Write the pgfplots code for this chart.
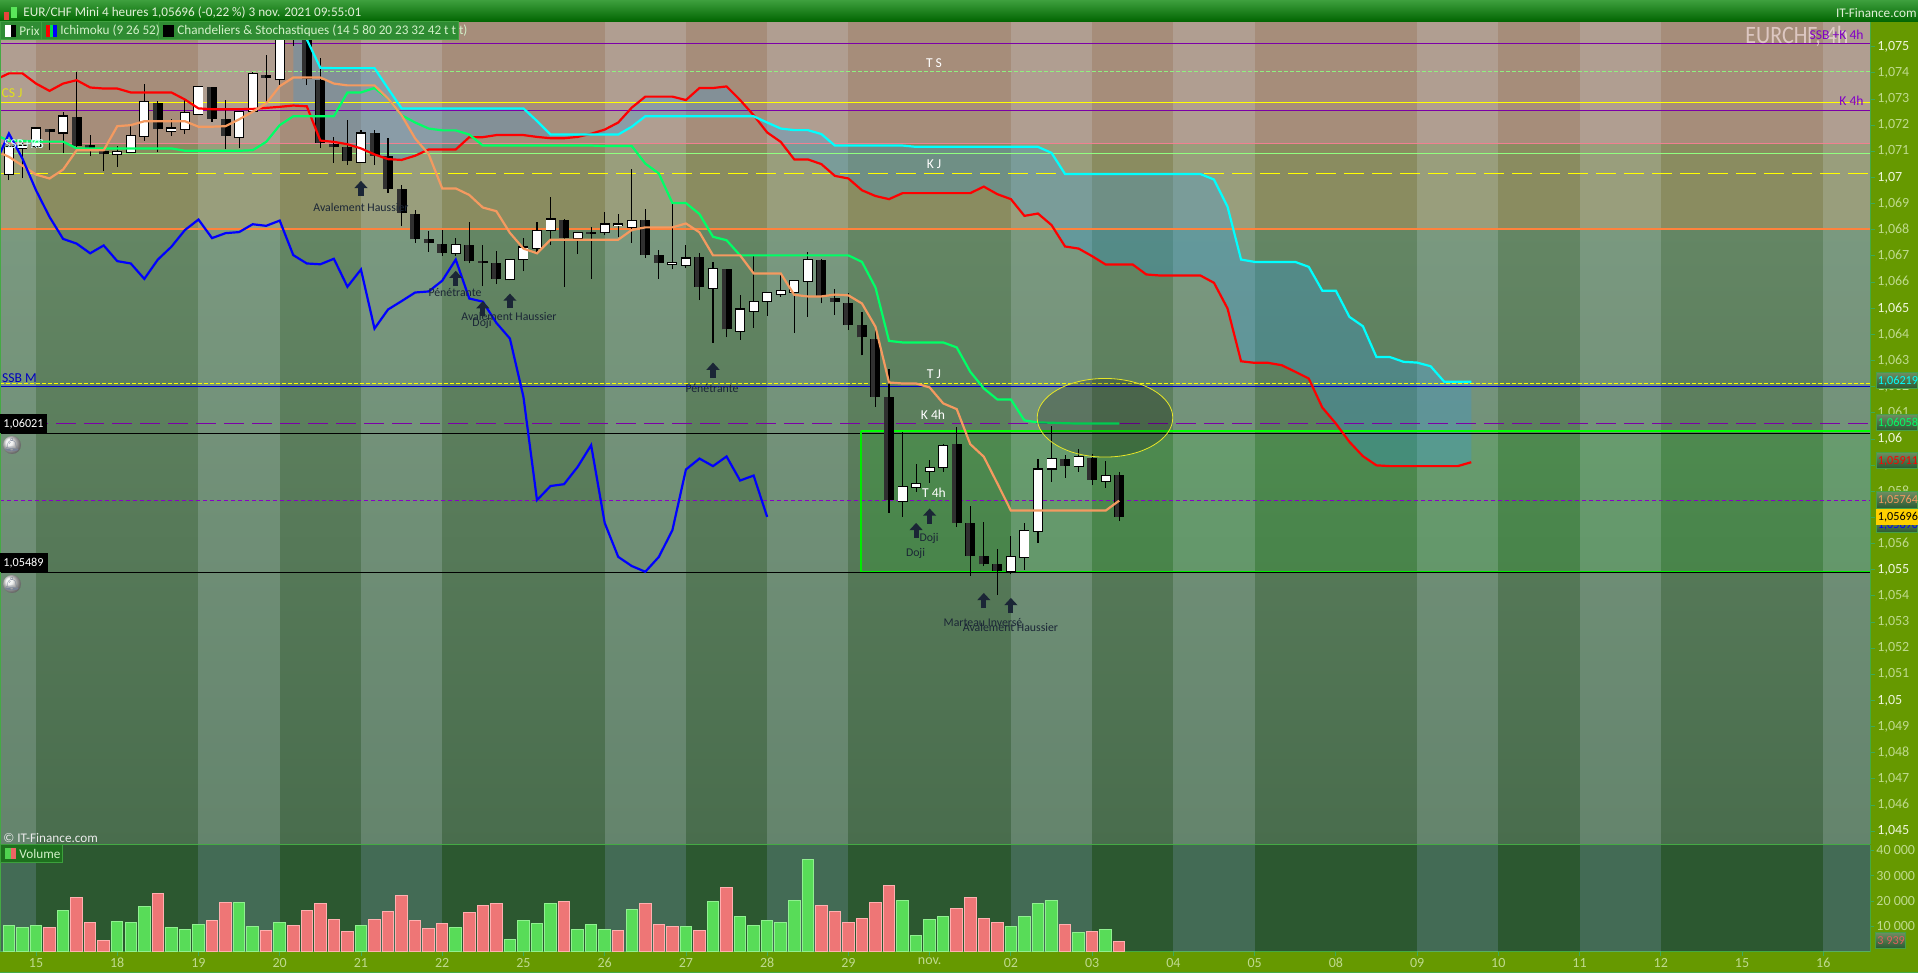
\documentclass[border=0pt]{standalone}
\usepackage{fontspec}
\setmainfont{Carlito}
\newfontfamily\emoji{Noto Emoji}
\usepackage{pgfplots}
\usepackage{pgfplotstable}
\pgfplotsset{compat=1.18}
\usetikzlibrary{arrows.meta}

\definecolor{axgreen}{HTML}{669900}
\definecolor{edge}{HTML}{44AA44}
\definecolor{pinkz}{HTML}{A68D7A}
\definecolor{olivez}{HTML}{8A8C60}
\definecolor{bandc}{RGB}{225,240,255}
\definecolor{vbandc}{HTML}{AEC6FF}
\definecolor{oran}{HTML}{F49A60}
\definecolor{spring}{HTML}{00FF66}
\definecolor{ccyan}{RGB}{0,255,255}
\definecolor{yel}{RGB}{255,255,0}
\definecolor{hpurple}{HTML}{7B00A8}
\definecolor{hpurpleb}{HTML}{8800C8}
\definecolor{txtmaj}{HTML}{EEF6DC}
\definecolor{txtmin}{HTML}{BFDA8E}
\definecolor{patt}{HTML}{1B2636}
\definecolor{cbaseT}{RGB}{100,134,100}
\definecolor{cbaseB}{RGB}{73,109,77}
\definecolor{cvol}{RGB}{44,88,48}
\definecolor{cgreenrect}{RGB}{0,210,0}
\definecolor{ccloud}{RGB}{51,153,221}
\definecolor{hlime}{RGB}{144,240,128}
\definecolor{hpink}{RGB}{240,128,144}
\definecolor{hlg}{RGB}{144,255,128}
\definecolor{horange}{RGB}{255,130,60}
\definecolor{hblue}{RGB}{0,0,200}
\definecolor{rlime}{RGB}{0,255,0}
\definecolor{rlimeb}{RGB}{0,235,0}
\definecolor{tickc}{RGB}{60,170,90}
\definecolor{vgf}{RGB}{88,220,88}
\definecolor{vgd}{RGB}{144,240,144}
\definecolor{vrf}{RGB}{238,118,118}
\definecolor{vrd}{RGB}{255,176,176}
\definecolor{barT}{RGB}{62,160,62}
\definecolor{barB}{RGB}{0,100,0}
\definecolor{icr}{RGB}{230,70,60}
\definecolor{icg}{RGB}{90,230,90}
\definecolor{icgb}{RGB}{0,220,80}
\definecolor{txtb}{RGB}{225,240,215}
\definecolor{txtl}{RGB}{210,240,200}
\definecolor{legf}{RGB}{47,140,51}
\definecolor{legd}{RGB}{63,160,63}
\definecolor{euc}{RGB}{245,225,225}
\definecolor{pur}{RGB}{130,0,200}
\definecolor{sblue}{RGB}{0,0,190}
\definecolor{bellc}{RGB}{120,130,150}
\definecolor{cw}{RGB}{235,235,235}
\definecolor{vlf}{RGB}{30,112,30}
\definecolor{vld}{RGB}{60,160,60}
\definecolor{vlg}{RGB}{80,210,80}
\definecolor{vlr}{RGB}{238,100,100}
\definecolor{tagT}{RGB}{108,140,96}
\definecolor{tagB}{RGB}{40,88,48}
\definecolor{tagd}{RGB}{70,160,70}
\definecolor{yt}{RGB}{255,208,0}
\definecolor{vt}{RGB}{224,96,96}
\definecolor{ellc}{RGB}{230,230,40}
\definecolor{dk}{RGB}{48,48,48}

\pgfplotstableread[row sep=\\]{i v\\
-2.659 1.07382\\ -2 1.07398\\ -1 1.07398\\ 0 1.07359\\ 1 1.07331\\ 2 1.07359\\ 3 1.07372\\ 4 1.07344\\ 5 1.07340\\ 6 1.07340\\ 7 1.07325\\ 10 1.07325\\ 11 1.07298\\ 12 1.07264\\ 13 1.07261\\ 15 1.07261\\ 16 1.07262\\ 17 1.07266\\ 18 1.07270\\ 19 1.07275\\ 20 1.07272\\ 21 1.07141\\ 22 1.07136\\ 23 1.07127\\ 24 1.07111\\ 25 1.07088\\ 26 1.07070\\ 27 1.07067\\ 28 1.07083\\ 29 1.07107\\ 31 1.07107\\ 32 1.07154\\ 33 1.07154\\ 34 1.07162\\ 36 1.07162\\ 37 1.07155\\ 38 1.07150\\ 39 1.07150\\ 40 1.07155\\ 41 1.07167\\ 42 1.07183\\ 43 1.07210\\ 44 1.07267\\ 45 1.07309\\ 47 1.07309\\ 48 1.07296\\ 49 1.07342\\ 50 1.07342\\ 51 1.07348\\ 52 1.07296\\ 53 1.07238\\ 54 1.07172\\ 55 1.07136\\ 56 1.07069\\ 57 1.07069\\ 58 1.07051\\ 59 1.07006\\ 60 1.06996\\ 61 1.06951\\ 62 1.06929\\ 63 1.06917\\ 64 1.06940\\ 69 1.06940\\ 70 1.06965\\ 71 1.06936\\ 72 1.06917\\ 73 1.06853\\ 74 1.06862\\ 75 1.06818\\ 76 1.06736\\ 77 1.06728\\ 78 1.06699\\ 79 1.06667\\ 81 1.06667\\ 82 1.06629\\ 83 1.06625\\ 86 1.06625\\ 87 1.06597\\ 88 1.06499\\ 89 1.06297\\ 90 1.06291\\ 91 1.06291\\ 92 1.06282\\ 93 1.06257\\ 94 1.06231\\ 95 1.06120\\ 96 1.06059\\ 97 1.05989\\ 98 1.05934\\ 99 1.05899\\ 100 1.05896\\ 105 1.05896\\ 106 1.05911\\
}\redT
\pgfplotstableread[row sep=\\]{i v\\
19 1.07589\\ 20 1.07528\\ 21 1.07419\\ 22 1.07418\\ 25 1.07418\\ 26 1.07340\\ 27 1.07264\\ 36 1.07264\\ 37 1.07216\\ 38 1.07164\\ 43 1.07164\\ 44 1.07194\\ 45 1.07234\\ 53 1.07234\\ 54 1.07210\\ 55 1.07187\\ 56 1.07181\\ 57 1.07181\\ 58 1.07166\\ 59 1.07122\\ 64 1.07122\\ 65 1.07117\\ 74 1.07117\\ 75 1.07094\\ 76 1.07013\\ 86 1.07013\\ 87 1.06992\\ 88 1.06888\\ 89 1.06686\\ 90 1.06677\\ 93 1.06677\\ 94 1.06658\\ 95 1.06567\\ 96 1.06567\\ 97 1.06467\\ 98 1.06431\\ 99 1.06313\\ 100 1.06313\\ 101 1.06295\\ 102 1.06292\\ 103 1.06278\\ 104 1.06219\\ 106 1.06219\\
}\cyanT
% the cloud outline: the red span from 19 to 106, then the cyan span back
\pgfplotstableread[row sep=\\]{i v\\
19 1.07275\\ 20 1.07272\\ 21 1.07141\\ 22 1.07136\\ 23 1.07127\\ 24 1.07111\\ 25 1.07088\\ 26 1.07070\\ 27 1.07067\\ 28 1.07083\\ 29 1.07107\\ 31 1.07107\\ 32 1.07154\\ 33 1.07154\\ 34 1.07162\\ 36 1.07162\\ 37 1.07155\\ 38 1.07150\\ 39 1.07150\\ 40 1.07155\\ 41 1.07167\\ 42 1.07183\\ 43 1.07210\\ 44 1.07267\\ 45 1.07309\\ 47 1.07309\\ 48 1.07296\\ 49 1.07342\\ 50 1.07342\\ 51 1.07348\\ 52 1.07296\\ 53 1.07238\\ 54 1.07172\\ 55 1.07136\\ 56 1.07069\\ 57 1.07069\\ 58 1.07051\\ 59 1.07006\\ 60 1.06996\\ 61 1.06951\\ 62 1.06929\\ 63 1.06917\\ 64 1.06940\\ 69 1.06940\\ 70 1.06965\\ 71 1.06936\\ 72 1.06917\\ 73 1.06853\\ 74 1.06862\\ 75 1.06818\\ 76 1.06736\\ 77 1.06728\\ 78 1.06699\\ 79 1.06667\\ 81 1.06667\\ 82 1.06629\\ 83 1.06625\\ 86 1.06625\\ 87 1.06597\\ 88 1.06499\\ 89 1.06297\\ 90 1.06291\\ 91 1.06291\\ 92 1.06282\\ 93 1.06257\\ 94 1.06231\\ 95 1.06120\\ 96 1.06059\\ 97 1.05989\\ 98 1.05934\\ 99 1.05899\\ 100 1.05896\\ 105 1.05896\\ 106 1.05911\\
106 1.06219\\ 104 1.06219\\ 103 1.06278\\ 102 1.06292\\ 101 1.06295\\ 100 1.06313\\ 99 1.06313\\ 98 1.06431\\ 97 1.06467\\ 96 1.06567\\ 95 1.06567\\ 94 1.06658\\ 93 1.06677\\ 90 1.06677\\ 89 1.06686\\ 88 1.06888\\ 87 1.06992\\ 86 1.07013\\ 76 1.07013\\ 75 1.07094\\ 74 1.07117\\ 65 1.07117\\ 64 1.07122\\ 59 1.07122\\ 58 1.07166\\ 57 1.07181\\ 56 1.07181\\ 55 1.07187\\ 54 1.07210\\ 53 1.07234\\ 45 1.07234\\ 44 1.07194\\ 43 1.07164\\ 38 1.07164\\ 37 1.07216\\ 36 1.07264\\ 27 1.07264\\ 26 1.07340\\ 25 1.07418\\ 22 1.07418\\ 21 1.07419\\ 20 1.07528\\ 19 1.07589\\
}\cloudT
\pgfplotstableread[row sep=\\]{i v\\
-2.659 1.07155\\ -2 1.07140\\ -1 1.07140\\ 0 1.07137\\ 2 1.07137\\ 3 1.07111\\ 10 1.07111\\ 11 1.07102\\ 15 1.07102\\ 16 1.07104\\ 17 1.07136\\ 18 1.07200\\ 19 1.07234\\ 22 1.07234\\ 23 1.07325\\ 24 1.07325\\ 25 1.07342\\ 26 1.07302\\ 27 1.07238\\ 28 1.07210\\ 29 1.07187\\ 30 1.07180\\ 31 1.07180\\ 32 1.07164\\ 33 1.07122\\ 41 1.07122\\ 42 1.07120\\ 44 1.07120\\ 45 1.07053\\ 46 1.07015\\ 47 1.06902\\ 48 1.06902\\ 49 1.06860\\ 50 1.06773\\ 51 1.06760\\ 52 1.06702\\ 60 1.06702\\ 61 1.06677\\ 62 1.06579\\ 63 1.06375\\ 64 1.06369\\ 67 1.06369\\ 68 1.06350\\ 69 1.06257\\ 70 1.06193\\ 71 1.06151\\ 72 1.06151\\ 73 1.06071\\ 74 1.06063\\ 75 1.06062\\ 76 1.06060\\ 77 1.06059\\ 80 1.06059\\
}\greenT
\pgfplotstableread[row sep=\\]{i v\\
-2.659 1.07094\\ -2 1.07079\\ -1 1.07045\\ 0 1.07011\\ 1 1.06996\\ 2 1.07030\\ 3 1.07104\\ 5 1.07104\\ 6 1.07196\\ 7 1.07200\\ 8 1.07215\\ 11 1.07215\\ 12 1.07194\\ 13 1.07194\\ 14 1.07196\\ 15 1.07222\\ 16 1.07251\\ 17 1.07283\\ 18 1.07349\\ 19 1.07382\\ 21 1.07382\\ 22 1.07359\\ 23 1.07352\\ 25 1.07352\\ 26 1.07302\\ 27 1.07238\\ 28 1.07149\\ 29 1.07089\\ 30 1.06958\\ 31 1.06958\\ 32 1.06933\\ 33 1.06885\\ 34 1.06871\\ 35 1.06788\\ 36 1.06728\\ 37 1.06710\\ 38 1.06762\\ 43 1.06762\\ 44 1.06799\\ 45 1.06809\\ 47 1.06809\\ 48 1.06824\\ 49 1.06790\\ 50 1.06702\\ 52 1.06702\\ 53 1.06633\\ 55 1.06633\\ 56 1.06551\\ 57 1.06545\\ 58 1.06545\\ 59 1.06552\\ 60 1.06549\\ 61 1.06518\\ 62 1.06429\\ 63 1.06216\\ 64 1.06212\\ 65 1.06212\\ 66 1.06197\\ 67 1.06136\\ 68 1.06114\\ 69 1.05980\\ 70 1.05932\\ 71 1.05830\\ 72 1.05726\\ 79 1.05726\\ 80 1.05764\\
}\oranT
\pgfplotstableread[row sep=\\]{i v\\
-2.659 1.07092\\ -2 1.07168\\ -1 1.07072\\ 0 1.06951\\ 1 1.06849\\ 2 1.06765\\ 3 1.06747\\ 4 1.06710\\ 5 1.06740\\ 6 1.06680\\ 7 1.06671\\ 8 1.06612\\ 9 1.06686\\ 10 1.06735\\ 11 1.06799\\ 12 1.06839\\ 13 1.06768\\ 14 1.06787\\ 15 1.06791\\ 16 1.06821\\ 17 1.06815\\ 18 1.06835\\ 19 1.06703\\ 20 1.06671\\ 21 1.06668\\ 22 1.06689\\ 23 1.06582\\ 24 1.06648\\ 25 1.06422\\ 26 1.06495\\ 27 1.06527\\ 28 1.06560\\ 29 1.06564\\ 30 1.06605\\ 31 1.06686\\ 32 1.06537\\ 33 1.06525\\ 34 1.06444\\ 35 1.06384\\ 36 1.06161\\ 37 1.05766\\ 38 1.05820\\ 39 1.05827\\ 40 1.05893\\ 41 1.05976\\ 42 1.05679\\ 43 1.05549\\ 44 1.05514\\ 45 1.05492\\ 46 1.05549\\ 47 1.05651\\ 48 1.05883\\ 49 1.05925\\ 50 1.05896\\ 51 1.05933\\ 52 1.05841\\ 53 1.05860\\ 54 1.05702\\
}\blueT

% candles: index, high, top of body, bottom of body, low
\pgfplotstableread[row sep=\\]{i h t b l\\
-2 1.07130 1.07117 1.07015 1.06990\\
-1 1.07143 1.07121 1.07113 1.06996\\
0 1.07187 1.07187 1.07121 1.07113\\
2 1.07251 1.07233 1.07172 1.07092\\
6 1.07120 1.07098 1.07089 1.07041\\
7 1.07200 1.07160 1.07099 1.07094\\
8 1.07359 1.07287 1.07160 1.07140\\
10 1.07225 1.07187 1.07178 1.07159\\
11 1.07302 1.07247 1.07187 1.07166\\
12 1.07349 1.07344 1.07243 1.07238\\
15 1.07252 1.07252 1.07153 1.07111\\
16 1.07404 1.07394 1.07254 1.07251\\
18 1.07550 1.07531 1.07375 1.07353\\
24 1.07183 1.07168 1.07060 1.07060\\
31 1.06768 1.06740 1.06712 1.06700\\
35 1.06690 1.06686 1.06610 1.06607\\
36 1.06767 1.06732 1.06689 1.06642\\
37 1.06830 1.06796 1.06732 1.06716\\
38 1.06926 1.06839 1.06799 1.06741\\
40 1.06792 1.06786 1.06767 1.06707\\
42 1.06866 1.06820 1.06790 1.06778\\
43 1.06862 1.06820 1.06818 1.06773\\
44 1.07034 1.06835 1.06811 1.06751\\
47 1.06898 1.06672 1.06669 1.06648\\
48 1.06740 1.06690 1.06667 1.06652\\
50 1.06676 1.06648 1.06579 1.06368\\
52 1.06550 1.06495 1.06414 1.06380\\
53 1.06699 1.06525 1.06490 1.06425\\
54 1.06559 1.06559 1.06529 1.06471\\
55 1.06626 1.06564 1.06556 1.06544\\
56 1.06605 1.06605 1.06562 1.06406\\
57 1.06713 1.06686 1.06605 1.06467\\
64 1.06027 1.05817 1.05763 1.05702\\
65 1.05906 1.05826 1.05817 1.05798\\
66 1.05919 1.05889 1.05878 1.05832\\
67 1.05979 1.05974 1.05891 1.05874\\
72 1.05628 1.05549 1.05496 1.05483\\
73 1.05677 1.05649 1.05549 1.05500\\
74 1.05925 1.05883 1.05649 1.05603\\
75 1.06049 1.05925 1.05887 1.05836\\
77 1.05960 1.05932 1.05895 1.05874\\
79 1.05915 1.05859 1.05841 1.05813\\
}\upT
\pgfplotstableread[row sep=\\]{i h t b l\\
1 1.07187 1.07187 1.07175 1.07104\\
3 1.07404 1.07233 1.07121 1.07117\\
4 1.07162 1.07123 1.07113 1.07082\\
5 1.07104 1.07100 1.07089 1.07025\\
9 1.07292 1.07285 1.07186 1.07097\\
13 1.07347 1.07347 1.07224 1.07213\\
14 1.07296 1.07222 1.07159 1.07107\\
17 1.07468 1.07391 1.07381 1.07283\\
19 1.07576 1.07563 1.07544 1.07503\\
20 1.07560 1.07550 1.07375 1.07353\\
21 1.07456 1.07372 1.07132 1.07111\\
22 1.07155 1.07127 1.07116 1.07056\\
23 1.07219 1.07116 1.07062 1.07047\\
25 1.07181 1.07169 1.07083 1.07047\\
26 1.07149 1.07081 1.06955 1.06941\\
27 1.06971 1.06955 1.06865 1.06814\\
28 1.06875 1.06862 1.06764 1.06751\\
29 1.06795 1.06764 1.06750 1.06716\\
30 1.06799 1.06747 1.06712 1.06699\\
32 1.06830 1.06741 1.06680 1.06671\\
33 1.06741 1.06679 1.06673 1.06584\\
34 1.06718 1.06671 1.06612 1.06592\\
39 1.06843 1.06839 1.06769 1.06582\\
41 1.06811 1.06790 1.06784 1.06612\\
45 1.06879 1.06837 1.06703 1.06693\\
46 1.06722 1.06703 1.06673 1.06612\\
49 1.06710 1.06694 1.06582 1.06531\\
51 1.06648 1.06648 1.06419 1.06389\\
58 1.06690 1.06686 1.06546 1.06518\\
59 1.06572 1.06538 1.06525 1.06474\\
60 1.06559 1.06520 1.06435 1.06416\\
61 1.06484 1.06434 1.06388 1.06320\\
62 1.06416 1.06384 1.06161 1.06123\\
63 1.06266 1.06161 1.05768 1.05717\\
68 1.06044 1.05979 1.05679 1.05664\\
69 1.05743 1.05677 1.05552 1.05475\\
70 1.05682 1.05552 1.05521 1.05514\\
71 1.05581 1.05521 1.05496 1.05403\\
76 1.05937 1.05925 1.05897 1.05851\\
78 1.05942 1.05929 1.05844 1.05823\\
80 1.05872 1.05862 1.05702 1.05686\\
}\downT

\pgfplotstableread[row sep=\\]{i v\\
-2 10280\\ -1 9490\\ 0 10280\\ 2 16210\\ 6 11860\\ 7 11470\\ 8 17790\\ 10 9490\\ 11 8700\\ 12 10680\\ 15 19370\\ 16 9880\\ 18 11470\\ 24 10280\\ 31 9490\\ 35 4740\\ 36 12260\\ 37 11070\\ 38 18980\\ 40 8700\\ 41 10680\\ 42 8700\\ 44 16610\\ 48 9880\\ 50 19770\\ 52 13840\\ 53 10280\\ 54 12260\\ 55 11470\\ 56 20170\\ 57 36380\\ 64 20170\\ 65 6330\\ 66 12650\\ 67 13840\\ 72 9880\\ 73 13840\\ 74 18980\\ 75 20170\\ 77 7510\\ 79 8700\\
}\volUp
\pgfplotstableread[row sep=\\]{i v\\
1 9490\\ 3 21350\\ 4 11470\\ 5 4350\\ 9 22930\\ 13 12260\\ 14 19370\\ 17 8300\\ 19 10280\\ 20 16210\\ 21 18980\\ 22 12650\\ 23 7910\\ 25 12650\\ 26 15820\\ 27 22140\\ 28 12260\\ 29 9090\\ 30 11070\\ 32 15420\\ 33 18190\\ 34 18980\\ 39 19770\\ 43 8300\\ 45 18980\\ 46 10680\\ 47 9880\\ 49 8300\\ 51 25310\\ 58 18190\\ 59 15820\\ 60 11470\\ 61 13050\\ 62 19370\\ 63 26100\\ 68 17000\\ 69 21350\\ 70 13050\\ 71 11470\\ 76 10680\\ 78 7910\\ 80 3939\\
}\volDn

\def\XMIN{-2.659}
\def\XMAX{135.45}
\def\YTOP{1.075945}
\def\YBOT{1.044499}
\newcommand\rect[5]{\addplot[draw=none,#5] coordinates {(#1,#2)(#3,#2)(#3,#4)(#1,#4)} --cycle;}
\newcommand\hl[2]{\addplot[#2] coordinates {(\XMIN,#1)(\XMAX,#1)};}
\newcommand\lightbands[3]{%
  \foreach \a/\b in {-2.659/0,12/18,24/30,42/48,54/60,72/78,84/90,102/108,114/120,132/135.45}{%
    \edef\tmp{\noexpand\rect{\a}{#1}{\b}{#2}{fill=#3,fill opacity=.18}}\tmp}}
\newcommand\pattarrow[3]{\addplot[line width=2.6pt,patt,-{Triangle[width=6.4pt,length=3.6pt]}] coordinates {(#1,#2)(#1,#3)};}
\newcommand\pricetag[4]{%
    \shade[top color=tagT,bottom color=tagB] (1876,#1) rectangle (1917.5,#2);
    \draw[tagd,line width=.5pt] (1876,#1) rectangle (1917.5,#2);
    \node[tg,anchor=west,inner sep=0pt,text=#3] at (1877.5,{(#1+#2)/2}) {#4};}
\tikzset{
  f/.style={font=\fontsize{6.6pt}{8pt}\selectfont},
  tg/.style={font=\fontsize{6.1pt}{8pt}\selectfont},
  pat/.style={font=\fontsize{5.9pt}{8pt}\selectfont,text=patt,inner sep=0pt},
  wl/.style={font=\fontsize{6.8pt}{8pt}\selectfont,text=white,inner sep=0pt},
}

\begin{document}
\begin{tikzpicture}
\path[use as bounding box] (0,0) rectangle (959pt,486.5pt);
\fill[axgreen] (0,0) rectangle (959pt,486.5pt);
\begin{scope}[x=.5pt,y=-.5pt,shift={(0pt,486.5pt)}]
  \shade[top color=cbaseT,bottom color=cbaseB] (0,229) rectangle (1870,845);
  \fill[cvol] (0,844.3) rectangle (1870,951.5);
\end{scope}

% ---------- price pane
\begin{axis}[
  at={(0pt,64.35pt)},anchor=south west,
  scale only axis,width=935pt,height=411.15pt,
  xmin=\XMIN,xmax=\XMAX,ymin=\YBOT,ymax=\YTOP,
  axis x line=none,axis y line=right,
  y axis line style={-,draw=edge,line width=.5pt},
  ytick={1.045,1.046,1.047,1.048,1.049,1.05,1.051,1.052,1.053,1.054,1.055,1.056,1.057,1.058,1.059,1.06,1.061,1.062,1.063,1.064,1.065,1.066,1.067,1.068,1.069,1.07,1.071,1.072,1.073,1.074,1.075},
  yticklabels={\textcolor{txtmaj}{1,045},{1,046},{1,047},{1,048},{1,049},\textcolor{txtmaj}{1,05},{1,051},{1,052},{1,053},{1,054},\textcolor{txtmaj}{1,055},{1,056},{1,057},{1,058},{1,059},\textcolor{txtmaj}{1,06},{1,061},{1,062},{1,063},{1,064},\textcolor{txtmaj}{1,065},{1,066},{1,067},{1,068},{1,069},\textcolor{txtmaj}{1,07},{1,071},{1,072},{1,073},{1,074},\textcolor{txtmaj}{1,075}},
  yticklabel style={font=\fontsize{7pt}{8pt}\selectfont,text=txtmin,inner sep=1pt,anchor=west},
  tick align=outside,major tick length=2.5pt,
  tick style={draw=tickc,line width=.4pt},
  minor tick num=0,
]
% zones
\rect{\XMIN}{\YTOP}{\XMAX}{1.07131}{fill=pinkz}
\rect{\XMIN}{1.07131}{\XMAX}{1.06803}{fill=olivez}
\rect{60.93}{1.0603}{\XMAX}{1.05492}{fill=cgreenrect,fill opacity=.14}
\lightbands{\YTOP}{\YBOT}{bandc}
% cloud
\addplot[fill=ccloud,fill opacity=.3,draw=none] table[x=i,y=v]{\cloudT} --cycle;
% horizontal levels
\hl{1.07513}{hpurple,line width=.6pt}
\hl{1.07406}{hlime,line width=.5pt,dash pattern=on 2pt off 1pt}
\hl{1.07287}{yel,line width=.6pt}
\hl{1.07257}{hpurple,line width=.6pt}
\hl{1.07131}{hpink,line width=.5pt}
\hl{1.07092}{hlg,line width=.5pt}
\hl{1.07016}{yel,line width=.6pt,dash pattern=on 10pt off 4pt}
\hl{1.06803}{horange,line width=1.1pt}
\hl{1.06213}{yel,line width=.5pt,dash pattern=on 2pt off 1pt}
\hl{1.06201}{hblue,line width=.6pt}
\hl{1.06060}{hpurple,line width=.5pt,dash pattern=on 10pt off 4pt}
\hl{1.06021}{black,line width=.6pt}
\hl{1.05765}{hpurpleb,line width=.6pt,dash pattern=on 2pt off 1.5pt}
\hl{1.05489}{black,line width=.6pt}
% green rectangle
\addplot[rlime,line width=1.3pt] coordinates {(\XMAX,1.0603)(60.93,1.0603)};
\addplot[rlimeb,line width=.6pt] coordinates {(60.93,1.0603)(60.93,1.05492)(\XMAX,1.05492)};
% wicks
\addplot[draw=none,error bars/.cd,y dir=plus,y explicit,error mark=none,error bar style={draw=black,line width=.55pt,solid}] table[x=i,y=l,y error plus expr=\thisrow{h}-\thisrow{l}]{\upT};
\addplot[draw=none,error bars/.cd,y dir=plus,y explicit,error mark=none,error bar style={draw=black,line width=.55pt,solid}] table[x=i,y=l,y error plus expr=\thisrow{h}-\thisrow{l}]{\downT};
% dark bodies
\addplot[draw=none,error bars/.cd,y dir=plus,y explicit,error mark=none,error bar style={draw=black,line width=5pt,solid}] table[x=i,y=b,y error plus expr=\thisrow{t}-\thisrow{b}]{\downT};
\addplot[draw=none,error bars/.cd,y dir=plus,y explicit,error mark=none,error bar style={draw=dk,line width=2pt,solid}] table[x expr=\thisrow{i}-0.2,y=b,y error plus expr=\thisrow{t}-\thisrow{b}]{\downT};
% white bodies
\addplot[draw=none,error bars/.cd,y dir=plus,y explicit,error mark=none,error bar style={draw=black,line width=5pt,solid}] table[x=i,y expr=\thisrow{b}-0.00004,y error plus expr=\thisrow{t}-\thisrow{b}+0.00008]{\upT};
\addplot[draw=none,error bars/.cd,y dir=plus,y explicit,error mark=none,error bar style={draw=white,line width=4.1pt,solid}] table[x=i,y=b,y error plus expr=\thisrow{t}-\thisrow{b}]{\upT};
% ichimoku
\addplot[red,line width=1.1pt] table[x=i,y=v]{\redT};
\addplot[ccyan,line width=1.1pt] table[x=i,y=v]{\cyanT};
\addplot[spring,line width=1.1pt] table[x=i,y=v]{\greenT};
\addplot[oran,line width=1.1pt] table[x=i,y=v]{\oranT};
\addplot[blue,line width=1.1pt] table[x=i,y=v]{\blueT};
% pattern arrows
\pattarrow{24}{1.06930}{1.06987}
\pattarrow{31}{1.06584}{1.06643}
\pattarrow{33}{1.06470}{1.06527}
\pattarrow{35}{1.06499}{1.06556}
\pattarrow{50}{1.06234}{1.06292}
\pattarrow{65}{1.05622}{1.05679}
\pattarrow{66}{1.05675}{1.05734}
\pattarrow{70}{1.05353}{1.05411}
\pattarrow{72}{1.05334}{1.05392}
% ellipse
\draw[ellc,fill=black,fill opacity=.2,draw opacity=1,line width=.4pt] (axis cs:78.95,1.06081) ellipse [x radius=33.9pt,y radius=19.65pt];
\end{axis}

% ---------- volume pane
\begin{axis}[
  at={(0pt,10.6pt)},anchor=south west,
  scale only axis,width=935pt,height=53.6pt,
  xmin=\XMIN,xmax=\XMAX,ymin=0,ymax=42300,
  axis x line=bottom,axis y line=right,
  x axis line style={-,draw=edge,line width=.5pt},
  y axis line style={-,draw=edge,line width=.5pt},
  xtick={0,6,12,18,24,30,36,42,48,54,60,66,72,78,84,90,96,102,108,114,120,126,132},
  xticklabels={15,18,19,20,21,22,25,26,27,28,29,nov.,02,03,04,05,08,09,10,11,12,15,16},
  ytick={10000,20000,30000,40000},
  yticklabels={10 000,20 000,30 000,40 000},
  scaled y ticks=false,
  tick label style={font=\fontsize{7pt}{8pt}\selectfont,text=txtmin},
  yticklabel style={inner sep=1pt,anchor=west},
  xticklabel style={inner sep=0pt,anchor=north,yshift=-1pt},
  tick align=outside,major tick length=2pt,
  tick style={draw=tickc,line width=.4pt},
  minor tick num=0,
]
\lightbands{42300}{0}{vbandc}
\addplot[ybar,bar width=.85,bar shift=0pt,fill=vgf,draw=vgd,line width=.5pt] table[x=i,y=v]{\volUp};
\addplot[ybar,bar width=.85,bar shift=0pt,fill=vrf,draw=vrd,line width=.5pt] table[x=i,y=v]{\volDn};
\end{axis}

% ---------- furniture and annotations in picture pixels
\begin{scope}[x=.5pt,y=-.5pt,shift={(0pt,486.5pt)}]
  \draw[edge,line width=.5pt] (0,844.3) -- (1870,844.3);
  \draw[edge,line width=.5pt] (0,972.6) -- (1918,972.6);
  \draw[edge,line width=.5pt] (0.3,22) -- (0.3,951);
  \shade[top color=barT,bottom color=barB] (0,0) rectangle (1918,22);
  % title bar
  \fill[icr] (4,12) rectangle (9,20);
  \fill[icg] (11,7) rectangle (17,18);
  \node[f,anchor=west,text=txtb,inner sep=0pt] at (23,13) {EUR/CHF Mini 4 heures 1,05696 (-0,22 \%) 3 nov. 2021 09:55:01};
  \node[f,anchor=east,text=txtb,inner sep=0pt] at (1917,13) {IT-Finance.com};
  % indicator legend
  \fill[legf,draw=legd,line width=.5pt] (0,22) rectangle (458,39.5);
  \draw[legd,line width=.5pt] (41,22) -- (41,39.5) (158,22) -- (158,39.5);
  \fill[white] (5,25) rectangle (11,37); \fill[black] (11,25) rectangle (16,37);
  \fill[red] (46,25) rectangle (50,37); \fill[icgb] (50,25) rectangle (53,37); \fill[blue] (53,25) rectangle (57,37);
  \fill[black] (163,25) rectangle (174,37);
  \node[f,anchor=west,text=txtl,inner sep=0pt] at (19,31) {Prix};
  \node[f,anchor=west,text=txtl,inner sep=0pt] at (60,31) {Ichimoku (9 26 52)};
  \node[f,anchor=west,text=txtl,inner sep=0pt] at (177,31) {Chandeliers \& Stochastiques (14 5 80 20 23 32 42 t t t)};
  % chart labels
  \node[anchor=west,inner sep=0pt,text=euc,text opacity=.7,font=\fontsize{12.5pt}{14pt}\selectfont] at (1745,36) {\scalebox{.88}[1]{EURCHF, 4h}};
  \node[wl,text=pur,anchor=east] at (1864,35) {SSB +K 4h};
  \node[wl,text=pur,anchor=east] at (1864,101) {K 4h};
  \node[wl,text=yel!75!olivez] at (12,93) {CS J};
  \node[wl,text=white!85!ccyan] at (24,144) {SSB+KS};
  \node[wl] at (934,63) {T S};
  \node[wl] at (934,164) {K J};
  \node[wl] at (934,374) {T J};
  \node[wl] at (933,415) {K 4h};
  \node[wl] at (934,493) {T 4h};
  \node[wl,text=sblue] at (19.5,378) {SSB M};
  % pattern names
  \node[pat] at (361,207) {Avalement Haussier};
  \node[pat] at (455,293) {Pénétrante};
  \node[pat] at (482,323) {Doji};
  \node[pat] at (509,316) {Avalement Haussier};
  \node[pat] at (712,389) {Pénétrante};
  \node[pat] at (929,538) {Doji};
  \node[pat] at (915.5,553) {Doji};
  \node[pat] at (983,623) {Marteau Inversé};
  \node[pat] at (1010.5,627) {Avalement Haussier};
  % alert labels and bells
  \fill[black] (0,414) rectangle (47,433);
  \fill[black] (0,553) rectangle (48,572);
  \node[tg,text=white,anchor=west,inner sep=0pt] at (3,424) {1,06021};
  \node[tg,text=white,anchor=west,inner sep=0pt] at (3,563) {1,05489};
  \foreach \yy in {445,584}{
    \shade[ball color=white!85!gray] (12,\yy) circle [radius=9];
    \node[inner sep=0pt,text=bellc,font=\emoji\fontsize{6.5pt}{7pt}\selectfont] at (12,\yy) {🔔};
  }
  \node[f,text=cw,anchor=west,inner sep=0pt] at (3,838) {© IT-Finance.com};
  % volume legend
  \fill[vlf,draw=vld,line width=.5pt] (0,845) rectangle (62,862.7);
  \fill[vlg] (5,848) rectangle (11,859);
  \fill[vlr] (11,848) rectangle (16,859);
  \node[f,anchor=west,text=txtl,inner sep=0pt] at (19,853.5) {Volume};
  % price tags on the right
  \pricetag{518}{533}{blue}{1,05690}
  \pricetag{373}{389}{ccyan}{1,06219}
  \pricetag{415}{431}{spring}{1,06058}
  \pricetag{453}{469}{red}{1,05911}
  \pricetag{492}{509}{oran}{1,05764}
  \fill[yt] (1876,509) rectangle (1917.5,525);
  \node[tg,anchor=west,inner sep=0pt,text=black] at (1877.5,517) {1,05696};
  \shade[top color=tagT,bottom color=tagB] (1875,933) rectangle (1905,949);
  \draw[tagd,line width=.5pt] (1875,933) rectangle (1905,949);
  \node[tg,anchor=west,inner sep=0pt,text=vt] at (1877,941) {3 939};
\end{scope}
\end{tikzpicture}
\end{document}
